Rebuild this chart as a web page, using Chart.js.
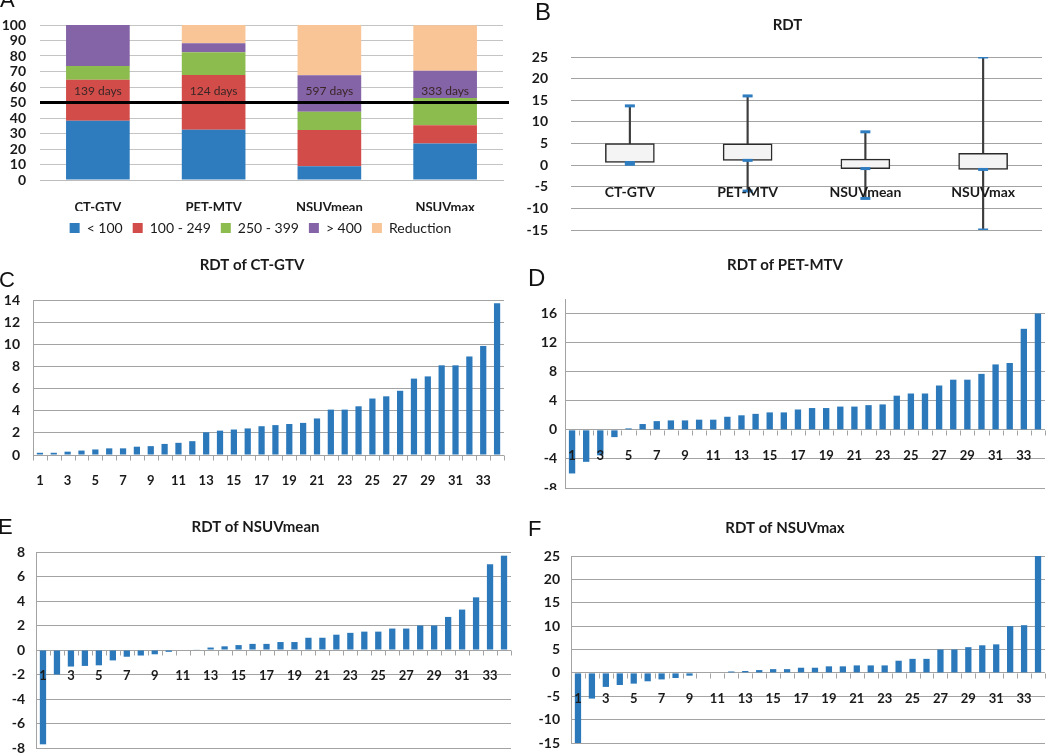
<!DOCTYPE html>
<html>
<head>
<meta charset="utf-8">
<script src="https://cdn.jsdelivr.net/npm/chart.js@4.4.1/dist/chart.umd.min.js"></script>
<style>
  html, body { margin: 0; padding: 0; background: #fff; }
  body { width: 1050px; height: 753px; position: relative; overflow: hidden; }
  .panel { position: absolute; }
  .letter { position: absolute; font-family: "Liberation Sans", Arial, sans-serif; line-height: 1; color: #111; }
</style>
</head>
<body>
<div class="panel" style="left:0;top:0"><canvas id="chartA" width="525" height="245"></canvas></div>
<div class="panel" style="left:525px;top:0"><canvas id="chartB" width="525" height="240"></canvas></div>
<div class="panel" style="left:0;top:240px"><canvas id="chartC" width="525" height="245"></canvas></div>
<div class="panel" style="left:525px;top:240px"><canvas id="chartD" width="525" height="250"></canvas></div>
<div class="panel" style="left:0;top:485px"><canvas id="chartE" width="525" height="268"></canvas></div>
<div class="panel" style="left:525px;top:485px"><canvas id="chartF" width="525" height="268"></canvas></div>

<div class="letter" style="left:0;top:-11px;font-size:22px">A</div>
<div class="letter" style="left:535px;top:0;font-size:24px">B</div>
<div class="letter" style="left:-1px;top:269px;font-size:22px">C</div>
<div class="letter" style="left:528px;top:266px;font-size:24px">D</div>
<div class="letter" style="left:-2px;top:516px;font-size:22px">E</div>
<div class="letter" style="left:528px;top:518px;font-size:22px">F</div>

<script>
// Panel A: share of patients (%) per doubling-time group
const measures = ["CT-GTV", "PET-MTV", "NSUVmean", "NSUVmax"];
const groupNames = ["< 100", "100 - 249", "250 - 399", "> 400", "Reduction"];
const shareUnder100 = [38.2, 32.4, 8.8, 23.5];
const share100to249 = [26.5, 35.3, 23.5, 11.8];
const share250to399 = [8.8, 14.7, 11.8, 17.6];
const shareOver400 = [26.5, 5.9, 23.5, 17.6];
const shareReduction = [0, 11.8, 32.4, 29.4];
const medianDays = ["139 days", "124 days", "597 days", "333 days"];

// Panel B: box plot of RDT
const rdtMin = [0.2, -6.0, -7.7, -15.0];
const rdtQ1 = [0.6, 1.1, -0.8, -1.0];
const rdtQ3 = [5.0, 4.9, 1.4, 2.7];
const rdtMax = [13.7, 16.0, 7.7, 25.0];

// Panels C-F: RDT per patient, sorted
const patients = ["1","2","3","4","5","6","7","8","9","10","11","12","13","14","15","16","17",
  "18","19","20","21","22","23","24","25","26","27","28","29","30","31","32","33","34"];
const rdtCtGtv = [0.2, 0.2, 0.3, 0.4, 0.5, 0.6, 0.6, 0.75, 0.8, 1.0, 1.1, 1.25, 2.05, 2.2, 2.3, 2.4, 2.6,
  2.7, 2.8, 2.9, 3.3, 4.1, 4.1, 4.4, 5.1, 5.3, 5.8, 6.9, 7.1, 8.1, 8.1, 8.9, 9.85, 13.7];
const rdtPetMtv = [-6.0, -4.4, -3.5, -1.0, 0.2, 0.8, 1.2, 1.3, 1.3, 1.4, 1.4, 1.8, 2.0, 2.2, 2.4, 2.4, 2.8,
  3.0, 3.0, 3.2, 3.2, 3.4, 3.5, 4.7, 5.0, 5.0, 6.1, 6.9, 6.9, 7.7, 9.0, 9.2, 13.9, 16.0];
const rdtNsuvMean = [-7.7, -2.0, -1.35, -1.3, -1.25, -0.85, -0.55, -0.45, -0.35, -0.15, 0, 0.05, 0.2, 0.3, 0.4, 0.5, 0.5,
  0.65, 0.65, 1.0, 1.0, 1.25, 1.4, 1.5, 1.5, 1.75, 1.75, 2.0, 2.0, 2.7, 3.3, 4.3, 7.0, 7.7];
const rdtNsuvMax = [-15.0, -5.5, -3.0, -2.6, -2.3, -1.8, -1.4, -1.1, -0.6, 0, 0, 0.3, 0.4, 0.6, 0.8, 0.8, 1.1,
  1.1, 1.4, 1.4, 1.6, 1.6, 1.6, 2.6, 3.0, 3.0, 5.0, 5.0, 5.5, 5.9, 6.1, 10.0, 10.2, 25.0];

Chart.defaults.font.family = "Lato, 'Open Sans', sans-serif";
Chart.defaults.color = "#1a1a1a";
Chart.defaults.animation = false;

const barBlue = "#2b79bb";
const gridGrey = "#a3a3a3";
const tickFont = { size: 14, weight: "bold" };

// x labels (and small tick marks) sitting on the zero line, Excel style
const zeroAxis = {
  id: "zeroAxis",
  afterDatasetsDraw(chart, args, opts) {
    const { ctx, scales: { x, y } } = chart;
    const y0 = Math.round(y.getPixelForValue(0)) + 0.5;
    const step = x.getPixelForValue(1) - x.getPixelForValue(0);
    ctx.save();
    if (opts.ticks) {
      ctx.strokeStyle = gridGrey;
      ctx.lineWidth = 1;
      ctx.beginPath();
      for (let i = 0; i <= chart.data.labels.length; i++) {
        const px = Math.round(x.getPixelForValue(i) - step / 2) + 0.5;
        ctx.moveTo(px, y0);
        ctx.lineTo(px, y0 + 5);
      }
      ctx.stroke();
    }
    ctx.fillStyle = "#1a1a1a";
    ctx.font = opts.font;
    ctx.textAlign = "center";
    ctx.textBaseline = "middle";
    chart.data.labels.forEach((lab, i) => {
      if (i % opts.every === 0) ctx.fillText(lab, x.getPixelForValue(i), y0 + opts.offset);
    });
    ctx.restore();
  }
};

function rdtChart(id, title, values, yRange, geo) {
  return new Chart(document.getElementById(id), {
    type: "bar",
    data: {
      labels: patients,
      datasets: [{ data: values, backgroundColor: barBlue, categoryPercentage: 1, barPercentage: 0.45 }]
    },
    options: {
      responsive: false,
      layout: { padding: { left: 0, right: geo.right, top: 0, bottom: geo.bottom } },
      scales: {
        x: { display: false },
        y: {
          min: yRange.min, max: yRange.max, bounds: "data",
          ticks: { stepSize: yRange.step, autoSkip: false, padding: geo.tickPad, font: tickFont, color: "#1a1a1a" },
          grid: { color: gridGrey, drawTicks: false },
          border: { display: true, color: gridGrey },
          // keep only the regular steps (no extra tick at an uneven max)
          afterBuildTicks: s => { s.ticks = s.ticks.filter(t => (t.value - yRange.min) % yRange.step === 0); },
          afterFit: s => { s.width = geo.left; s.paddingTop = 0; s.paddingBottom = 0; }
        }
      },
      plugins: {
        legend: { display: false },
        tooltip: { enabled: false },
        title: {
          display: true, text: title,
          font: { size: 15, weight: "bold" }, color: "#1a1a1a",
          padding: { top: geo.titleTop, bottom: geo.titleBottom }
        },
        zeroAxis: { ticks: true, every: 2, offset: 25, font: "bold 13px Lato" }
      }
    },
    plugins: [zeroAxis]
  });
}

// ---- Panel A ----
const refLine = {
  id: "refLine",
  afterLayout(chart) {
    // legend sits a little right of centre in the original
    chart.legend.left += 9;
    chart.legend.right += 9;
  },
  afterDatasetsDraw(chart) {
    const { ctx, chartArea, scales: { x, y } } = chart;
    const yLine = y.getPixelForValue(50);
    ctx.save();
    ctx.strokeStyle = "#000";
    ctx.lineWidth = 3;
    ctx.beginPath();
    ctx.moveTo(chartArea.left, yLine);
    ctx.lineTo(chartArea.right + 6, yLine);
    ctx.stroke();
    ctx.fillStyle = "#3a2626";
    ctx.font = "12px Lato";
    ctx.textAlign = "center";
    ctx.textBaseline = "middle";
    medianDays.forEach((t, i) => ctx.fillText(t, x.getPixelForValue(i), y.getPixelForValue(57.5)));
    ctx.restore();
  }
};

const groupColors = ["#2e7bbd", "#d24d49", "#8cbb4e", "#8463a7", "#f9c597"];
const groupShares = [shareUnder100, share100to249, share250to399, shareOver400, shareReduction];

new Chart(document.getElementById("chartA"), {
  type: "bar",
  data: {
    labels: measures,
    datasets: groupNames.map((name, k) => ({
      label: name, data: groupShares[k], backgroundColor: groupColors[k],
      categoryPercentage: 1, barPercentage: 0.55
    }))
  },
  options: {
    responsive: false,
    layout: { padding: { left: 0, right: 22, top: 25, bottom: 0 } },
    scales: {
      x: {
        stacked: true,
        grid: { display: false, drawTicks: false },
        border: { color: "#bdbdbd" },
        ticks: { padding: 20, font: { size: 13, weight: "bold" }, color: "#1a1a1a" },
        afterFit: s => { s.height = 31; }
      },
      y: {
        stacked: true, min: 0, max: 100,
        ticks: { stepSize: 10, autoSkip: false, padding: 14, font: tickFont, color: "#1a1a1a" },
        grid: { color: "#c4c4c4", drawTicks: false },
        border: { display: false },
        afterFit: s => { s.width = 40; }
      }
    },
    plugins: {
      legend: {
        position: "bottom",
        labels: { boxWidth: 10, boxHeight: 10, padding: 10, font: { size: 14 }, color: "#1a1a1a" }
      },
      tooltip: { enabled: false }
    }
  },
  plugins: [refLine]
});

// ---- Panel B ----
new Chart(document.getElementById("chartB"), {
  type: "bar",
  data: {
    labels: measures,
    datasets: [
      { type: "line", data: rdtMax, showLine: false, pointStyle: "line", pointRadius: 5,
        pointBorderWidth: 3, pointBorderColor: "#2f7dc1", order: 1 },
      { type: "line", data: rdtQ1, showLine: false, pointStyle: "line", pointRadius: 5,
        pointBorderWidth: 3, pointBorderColor: "#2f7dc1", order: 1 },
      { type: "line", data: rdtMin, showLine: false, pointStyle: "line", pointRadius: 5,
        pointBorderWidth: 3, pointBorderColor: "#2f7dc1", order: 1 },
      { data: rdtQ1.map((q, i) => [q, rdtQ3[i]]), backgroundColor: "#f4f4f4", borderColor: "#2a2a2a",
        borderWidth: 1.5, borderSkipped: false, barThickness: 49, grouped: false, order: 2 },
      { data: rdtMin.map((m, i) => [m, rdtMax[i]]), backgroundColor: "#3c3c3c",
        barThickness: 1.5, grouped: false, order: 3 }
    ]
  },
  options: {
    responsive: false,
    layout: { padding: { left: 0, right: 0, top: 0, bottom: 10 } },
    scales: {
      x: { display: false },
      y: {
        min: -15, max: 25,
        ticks: { stepSize: 5, autoSkip: false, padding: 23, font: tickFont, color: "#1a1a1a" },
        grid: { color: gridGrey, drawTicks: false },
        border: { display: false },
        afterFit: s => { s.width = 46; s.paddingTop = 0; s.paddingBottom = 0; }
      }
    },
    plugins: {
      legend: { display: false },
      tooltip: { enabled: false },
      title: { display: true, text: "RDT", font: { size: 15, weight: "bold" }, color: "#1a1a1a",
        padding: { top: 16, bottom: 23 } },
      zeroAxis: { ticks: false, every: 1, offset: 27, font: "bold 14px Lato" }
    }
  },
  plugins: [zeroAxis]
});

// ---- Panels C-F ----
rdtChart("chartC", "RDT of CT-GTV", rdtCtGtv, { min: 0, max: 14, step: 2 },
  { left: 33, right: 21, bottom: 30, tickPad: 13, titleTop: 16, titleBottom: 26 });
rdtChart("chartD", "RDT of PET-MTV", rdtPetMtv, { min: -8, max: 18, step: 4 },
  { left: 40, right: 5, bottom: 2, tickPad: 8, titleTop: 16, titleBottom: 25 });
rdtChart("chartE", "RDT of NSUVmean", rdtNsuvMean, { min: -8, max: 8, step: 2 },
  { left: 36, right: 14, bottom: 5, tickPad: 11, titleTop: 33, titleBottom: 16 });
rdtChart("chartF", "RDT of NSUVmax", rdtNsuvMax, { min: -15, max: 25, step: 5 },
  { left: 46, right: 5, bottom: 10, tickPad: 11, titleTop: 34, titleBottom: 19 });
</script>
</body>
</html>
